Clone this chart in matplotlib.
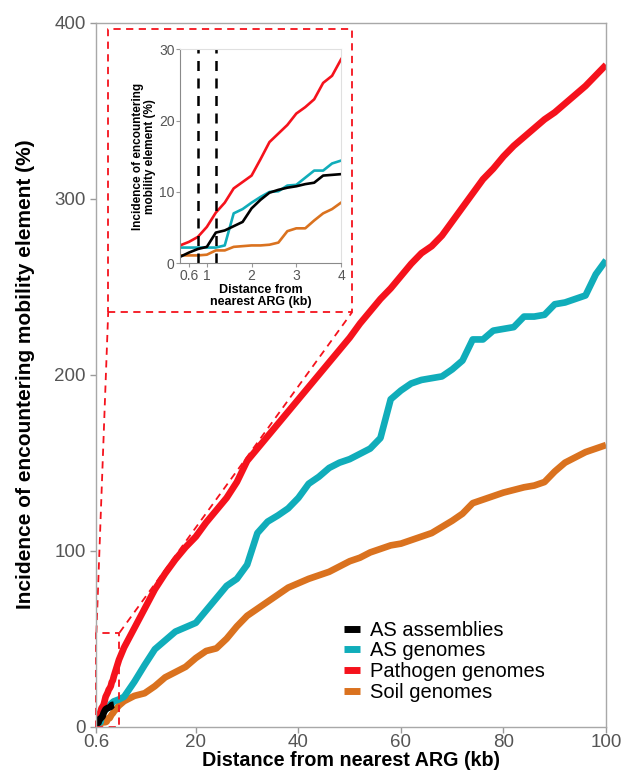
import numpy as np
import matplotlib
matplotlib.use("Agg")
import matplotlib.pyplot as plt

plt.rcParams['font.family'] = ['Liberation Sans', 'DejaVu Sans']

# distances (kb) for the close-up part, up to 4 kb
dist_near = [0.4, 0.6, 0.8, 1.0, 1.2, 1.4, 1.6, 1.8, 2.0, 2.2, 2.4, 2.6, 2.8, 3.0, 3.2, 3.4, 3.6, 3.8, 4.0]
as_assemblies = [0.9, 1.5, 2.0, 2.3, 4.3, 4.6, 5.2, 5.8, 7.7, 8.9, 9.9, 10.3, 10.6, 10.8, 11.1, 11.3, 12.3, 12.4, 12.5]
as_near = [2.2, 2.2, 2.2, 2.2, 2.2, 2.5, 7.0, 7.6, 8.5, 9.3, 10.0, 10.1, 10.9, 11.0, 12.0, 13.0, 13.0, 14.0, 14.4]
path_near = [2.5, 3.0, 3.7, 5.1, 7.1, 8.5, 10.5, 11.4, 12.3, 14.6, 17.0, 18.2, 19.4, 21.0, 21.9, 23.0, 25.3, 26.3, 28.6]
soil_near = [1.1, 1.1, 1.1, 1.2, 1.8, 1.8, 2.3, 2.4, 2.5, 2.5, 2.6, 2.9, 4.5, 4.9, 4.9, 6.0, 7.0, 7.6, 8.5]

# distances (kb) beyond 4 kb
dist_far = [5, 6, 8, 10, 12, 14, 16, 18, 20, 22, 24, 26, 28, 30, 32, 34, 36, 38, 40,
            42, 44, 46, 48, 50, 52, 54, 56, 58, 60, 62, 64, 66, 68, 70, 72, 74, 76, 78, 80,
            82, 84, 86, 88, 90, 92, 94, 96, 98, 100]
as_far = [15.5, 17, 25.5, 35, 44, 49, 54, 56.5, 59, 66, 73, 80, 84, 92, 110, 116.5, 120, 124, 130,
          138, 142, 147, 150, 152, 155, 158, 164, 186, 191, 195, 197, 198, 199, 203, 208, 220, 220, 225, 226,
          227, 233, 233, 234, 240, 241, 243, 245, 257, 265]
path_far = [38, 45, 56, 67, 78, 87, 95, 102, 108, 116, 123, 130, 139, 151, 158, 165, 172, 179, 186,
            193, 200, 207, 214, 221, 229, 236, 243, 249, 256, 263, 269, 273, 279, 287, 295, 303, 311, 317, 324,
            330, 335, 340, 345, 349, 354, 359, 364, 370, 376]
soil_far = [12, 14.5, 17.5, 19, 23, 28, 31, 34, 39, 43, 44.5, 50, 57, 63, 67, 71, 75, 79, 81.5,
            84, 86, 88, 91, 94, 96, 99, 101, 103, 104, 106, 108, 110, 113.5, 117, 121, 127, 129, 131, 133,
            134.5, 136, 137, 139, 145, 150, 153, 156, 158, 160]

labels = ["AS assemblies", "AS genomes", "Pathogen genomes", "Soil genomes"]
colors = ["black", "#10ADBA", "#F5121C", "#DA721F"]

fig = plt.figure(figsize=(6.24, 7.72), dpi=100)
ax = fig.add_axes([0.1545, 0.0587, 0.8167, 0.912])

dist_all = dist_near + dist_far
series = {
    "AS assemblies": (dist_near, as_assemblies),
    "AS genomes": (dist_all, as_near + as_far),
    "Pathogen genomes": (dist_all, path_near + path_far),
    "Soil genomes": (dist_all, soil_near + soil_far),
}
handles = {}
for lab in ["Soil genomes", "AS genomes", "Pathogen genomes", "AS assemblies"]:
    x, y = series[lab]
    handles[lab], = ax.plot(x, y, color=colors[labels.index(lab)], lw=4.8, solid_capstyle="butt")

ax.set_xlim(0.6, 100)
ax.set_ylim(0, 400)
ax.set_xticks([0.6, 20, 40, 60, 80, 100])
ax.set_xticklabels(["0.6", "20", "40", "60", "80", "100"])
ax.set_yticks([0, 100, 200, 300, 400])
ax.tick_params(colors="#9A9A9A", labelcolor="#555555", labelsize=13.5, length=4, width=1)
ax.tick_params(axis="x", pad=1.5)
for s in ax.spines.values():
    s.set_color("#A8A8A8")
    s.set_linewidth(1)
ax.set_xlabel("Distance from nearest ARG (kb)", fontsize=14.2, fontweight="bold", labelpad=0)
ax.set_ylabel("Incidence of encountering mobility element (%)", fontsize=15, fontweight="bold", labelpad=14)

leg = ax.legend([handles[l] for l in labels], labels, loc="lower left", bbox_to_anchor=(0.471, 0.024),
                frameon=False, fontsize=14.5, handlelength=0.75, handletextpad=0.5, labelspacing=0.085,
                borderaxespad=0)
for h in leg.get_lines():
    h.set_linewidth(5)

# zoom box and connector lines
dash = dict(color="#F5121C", lw=1.3, ls=(0, (4, 3)), clip_on=False)
ax.plot([0.6, 5.1, 5.1, 0.6, 0.6], [0, 0, 53.4, 53.4, 0], **dash)
ax.plot([2.9, 50.5, 50.5, 2.9, 2.9], [235.6, 235.6, 396.4, 396.4, 235.6], **dash)
ax.plot([0.6, 2.9], [53.4, 235.6], **dash)
ax.plot([5.1, 50.5], [53.4, 235.6], **dash)

# inset close-up
ins = fig.add_axes([0.2885, 0.659, 0.258, 0.277])
for lab in ["Soil genomes", "AS genomes", "Pathogen genomes", "AS assemblies"]:
    x, y = series[lab]
    ins.plot(x, y, color=colors[labels.index(lab)], lw=1.9)
for xv in [0.8, 1.2]:
    ins.axvline(xv, color="black", lw=1.8, ls=(0, (4, 3)))
ins.set_xlim(0.4, 4)
ins.set_ylim(0, 30)
ins.set_xticks([0.6, 1, 2, 3, 4])
ins.set_xticklabels(["0.6", "1", "2", "3", "4"])
ins.set_yticks([0, 10, 20, 30])
ins.tick_params(colors="#9A9A9A", labelcolor="#555555", labelsize=10, length=3, width=0.8, pad=1)
for side in ["left", "bottom"]:
    ins.spines[side].set_color("#8A8A8A")
for side in ["top", "right"]:
    ins.spines[side].set_color("#E0E0E0")
ins.set_xlabel("Distance from\nnearest ARG (kb)", fontsize=9, fontweight="bold", labelpad=1, linespacing=1.0)
ins.set_ylabel("Incidence of encountering\nmobility element (%)", fontsize=8.5, fontweight="bold",
               labelpad=2, linespacing=1.0)

fig.savefig("out.png", dpi=100)
